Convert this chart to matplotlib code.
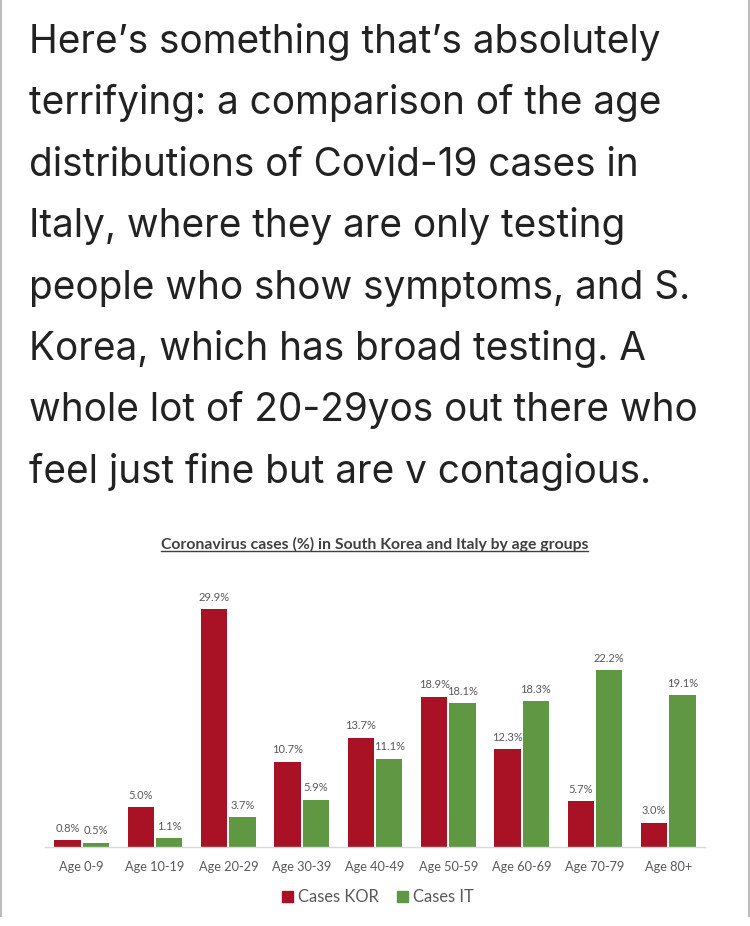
import matplotlib
matplotlib.use("Agg")
import matplotlib.pyplot as plt
from matplotlib.lines import Line2D
from matplotlib.patches import Patch
import numpy as np

headline_lines = [
    "Here\u2019s something that\u2019s absolutely",
    "terrifying: a comparison of the age",
    "distributions of Covid-19 cases in",
    "Italy, where they are only testing",
    "people who show symptoms, and S.",
    "Korea, which has broad testing. A",
    "whole lot of 20-29yos out there who",
    "feel just fine but are v contagious.",
]
chart_title = "Coronavirus cases (%) in South Korea and Italy by age groups"
categories = ["Age 0-9", "Age 10-19", "Age 20-29", "Age 30-39", "Age 40-49",
              "Age 50-59", "Age 60-69", "Age 70-79", "Age 80+"]
cases_kor = [0.8, 5.0, 29.9, 10.7, 13.7, 18.9, 12.3, 5.7, 3.0]
cases_it = [0.5, 1.1, 3.7, 5.9, 11.1, 18.1, 18.3, 22.2, 19.1]

W, H = 750, 926
RED, GREEN, GREY = "#A91125", "#5F9743", "#595959"
fig = plt.figure(figsize=(W / 100, H / 100), dpi=100, facecolor="white")

# headline
for i, line in enumerate(headline_lines):
    fig.text(29 / W, 1 - (53 + i * 61.4) / H, line, family="Inter",
             fontsize=27.9, color="#222222", ha="left", va="baseline")

# side rules of the screenshot
for x in (0.8, 748.8):
    fig.add_artist(Line2D([x / W, x / W], [1, 1 - 916 / H], color="#bdbdbd", lw=1.5))

# chart
base_y, px_per_unit = 846.7, 7.94
ymax = 32
ax = fig.add_axes([45 / W, 1 - base_y / H, 660 / W, ymax * px_per_unit / H])
x = np.arange(len(categories))
offset, width = 0.193, 0.355
b1 = ax.bar(x - offset, cases_kor, width, color=RED, label="Cases KOR")
b2 = ax.bar(x + offset, cases_it, width, color=GREEN, label="Cases IT")
ax.set_xlim(-0.5, len(categories) - 0.5)
ax.set_ylim(0, ymax)
ax.patch.set_alpha(0)
for s in ("top", "left", "right"):
    ax.spines[s].set_visible(False)
ax.spines["bottom"].set_color("#d9d9d9")
ax.spines["bottom"].set_linewidth(1)
ax.set_yticks([])
ax.set_xticks(x, categories)
ax.tick_params(axis="x", length=0, pad=10, labelsize=9.2, labelcolor=GREY)
for lab in ax.get_xticklabels():
    lab.set_family("Lato")

for xs, vals in ((x - offset, cases_kor), (x + offset, cases_it)):
    for xi, v in zip(xs, vals):
        ax.annotate(f"{v:.1f}%", (xi, v), xytext=(0, 8.6), textcoords="offset points",
                    ha="center", va="center", fontsize=8, family="Lato", color=GREY)

# chart title with underline
t = fig.text(374.5 / W, 1 - 544 / H, chart_title, family="Lato", fontweight="bold",
             fontsize=11.3, color="#404040", ha="center", va="center")
fig.canvas.draw()
bb = t.get_window_extent()
fig.add_artist(Line2D([bb.x0 / W, bb.x1 / W], [1 - 551 / H] * 2, color="#404040", lw=1))

handles = [Patch(color=RED, label="Cases KOR"), Patch(color=GREEN, label="Cases IT")]
leg = fig.legend(handles=handles, loc="center", bbox_to_anchor=(378 / W, 1 - 897 / H),
                 ncol=2, frameon=False, prop={"family": "Lato", "size": 11.9},
                 handlelength=0.67, handleheight=0.67, handletextpad=0.3, columnspacing=1.1,
                 borderpad=0, borderaxespad=0, labelcolor=GREY)

fig.savefig("out.png", dpi=100, facecolor="white")
